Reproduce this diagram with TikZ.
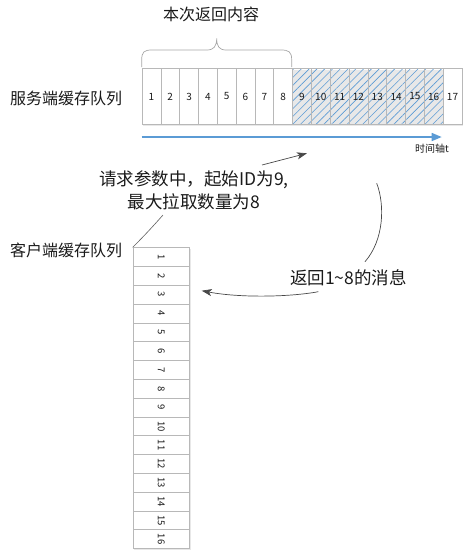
\documentclass[tikz,border=0pt]{standalone}
\usepackage{fontspec}
\setmainfont{Noto Sans CJK SC}
\usetikzlibrary{arrows.meta,patterns.meta}
\definecolor{cellline}{HTML}{B8B8B8}
\definecolor{hatch}{HTML}{5B9BD5}
\definecolor{axis}{HTML}{5B9BD5}
\definecolor{ink}{HTML}{1A1A1A}
\tikzset{
  scell/.style={draw=cellline, line width=0.6pt, fill=white, minimum width=18.82pt, minimum height=55.7pt, inner sep=0pt, anchor=north west, font=\fontsize{10}{12}\selectfont, text=ink},
  hcell/.style={scell, pattern={Lines[angle=45,distance=5.5pt,line width=0.6pt]}, pattern color=hatch},
  ccell/.style={draw=cellline, line width=0.6pt, fill=white, minimum width=56.6pt, minimum height=18.81pt, inner sep=0pt, anchor=north west, font=\fontsize{9.5}{11}\selectfont, text=ink},
  biglabel/.style={font=\fontsize{16}{18}\selectfont, text=ink, inner sep=0pt},
  calltext/.style={font=\fontsize{17.5}{23}\selectfont, text=ink, inner sep=0pt, align=center},
  thinline/.style={draw=ink!80, line width=0.7pt},
  callarrow/.style={thinline, -{Stealth[length=10pt,width=7pt,inset=2.5pt]}},
}
\begin{document}
\begin{tikzpicture}[x=1pt,y=-1pt]
\useasboundingbox (0,0) rectangle (467,557);
% title and brace
\node[biglabel] (title) at (211,14) {本次返回内容};
\draw[draw=gray!70, line width=0.7pt] (141.7,67) -- (141.7,60) .. controls (141.7,52) and (144,50) .. (152,50) -- (207,50) .. controls (214,50) and (216.7,46) .. (216.7,38.3) .. controls (216.7,46) and (219,50) .. (226,50) -- (281,50) .. controls (289,50) and (291.7,52) .. (291.7,60) -- (291.7,67);
% server queue
\node[biglabel, anchor=west] (slabel) at (10,98) {服务端缓存队列};
\fill[gray!18] (143.2,69.8) rectangle (463.2,125.5);
\foreach \i in {1,...,8} {
  \node[scell] (s\i) at ({141.7+(\i-1)*18.82},68.3) {\i};
}
\foreach \i in {9,...,16} {
  \node[hcell] (s\i) at ({141.7+(\i-1)*18.82},68.3) {};
  \node[font=\fontsize{10}{12}\selectfont, text=ink, inner sep=0pt] at (s\i.center) {\i};
}
\node[scell] (s17) at ({141.7+16*18.82},68.3) {17};
% time axis
\coordinate (axs) at (141.7,137);
\coordinate (axe) at (441.7,137);
\draw[draw=axis, line width=1.6pt, -{Triangle[length=10pt,width=8pt]}] (axs) -- (axe);
\node[font=\fontsize{10}{12}\selectfont, text=ink, inner sep=0pt] (tlabel) at (432,148.5) {时间轴t};
% request text
\node[calltext] (req) at (194,190) {请求参数中，起始ID为9,\\最大拉取数量为8};
\coordinate (reqa) at (262,165);
\coordinate (reqb) at (307,153.3);
\draw[callarrow] (reqa) -- (reqb);
% client queue
\node[biglabel, anchor=west] (clabel) at (10,250.7) {客户端缓存队列};
\fill[gray!18] (134.2,248.8) rectangle (190.8,549.8);
\foreach \i in {1,...,16} {
  \node[ccell] (c\i) at (132.7,{247.3+(\i-1)*18.81}) {\rotatebox{-90}{\i}};
}
\coordinate (rl) at (163,215);
\draw[draw=ink!70, line width=0.6pt] (rl) .. controls (155,224) and (147,233) .. (c1.north west);
% return text and arrows
\node[calltext] (ret) at (348.5,278) {返回1\char`~8的消息};
\coordinate (r0) at (376.7,183.3);
\coordinate (r1) at (365,261.7);
\draw[thinline] (r0) .. controls (385,205) and (384,240) .. (r1);
\coordinate (r2) at (318.3,291.7);
\coordinate (r3) at (201.7,290.7);
\draw[callarrow] (r2) .. controls (290,297) and (240,298) .. (r3);
\end{tikzpicture}
\end{document}
